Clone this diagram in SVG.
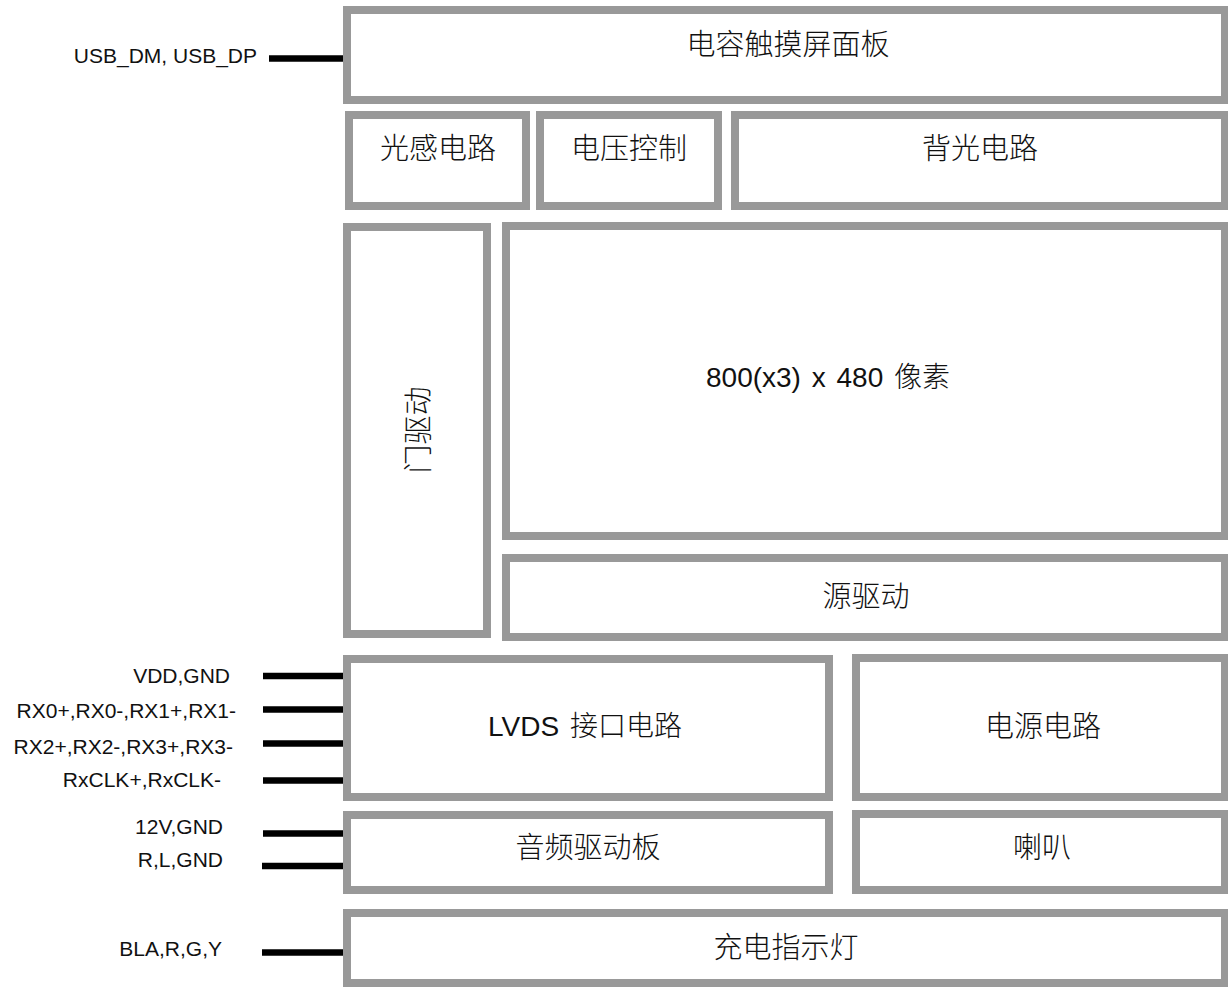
<svg xmlns="http://www.w3.org/2000/svg" width="1228" height="987" viewBox="0 0 1228 987">
<style>
.box{fill:#fff;stroke:#999;stroke-width:8}
.cjk{font-family:"Noto Sans CJK SC","Liberation Sans",sans-serif;font-size:29px;font-weight:300;fill:#111;text-anchor:middle}
.mix{font-family:"Liberation Sans","Noto Sans CJK SC",sans-serif;font-size:28px;fill:#111}
.pin{font-family:"Liberation Sans",Arial,sans-serif;font-size:21px;fill:#111;text-anchor:end}
.wire{stroke:#000;stroke-width:6.5;fill:none}
</style>
<rect width="1228" height="987" fill="#fff"/>
<g id="touch-panel"><rect class="box" x="347" y="10" width="878" height="90"/><text class="cjk" x="788" y="55">电容触摸屏面板</text></g>
<g id="light-sense"><rect class="box" x="349" y="115" width="177" height="91"/><text class="cjk" x="438" y="159">光感电路</text></g>
<g id="voltage-control"><rect class="box" x="540" y="115" width="178" height="91"/><text class="cjk" x="629" y="159">电压控制</text></g>
<g id="backlight"><rect class="box" x="735" y="115" width="490" height="91"/><text class="cjk" x="980" y="159">背光电路</text></g>
<g id="gate-driver"><rect class="box" x="347" y="227" width="140" height="407"/><text class="cjk" x="0" y="11" transform="translate(417.5,430) rotate(-90)">门驱动</text></g>
<g id="pixels"><rect class="box" x="506" y="226" width="719" height="310"/><text class="mix" x="706" y="387" word-spacing="3">800(x3) x 480 <tspan font-family="Noto Sans CJK SC, sans-serif" font-weight="300">像素</tspan></text></g>
<g id="source-driver"><rect class="box" x="506" y="558" width="719" height="79"/><text class="cjk" x="866" y="607">源驱动</text></g>
<g id="lvds"><rect class="box" x="347" y="659" width="482" height="138"/><text class="mix" x="585" y="736" text-anchor="middle" word-spacing="3">LVDS <tspan font-family="Noto Sans CJK SC, sans-serif" font-weight="300">接口电路</tspan></text></g>
<g id="power"><rect class="box" x="856" y="658" width="369" height="139"/><text class="cjk" x="1043" y="737">电源电路</text></g>
<g id="audio"><rect class="box" x="347" y="815" width="482" height="75"/><text class="cjk" x="588" y="858">音频驱动板</text></g>
<g id="speaker"><rect class="box" x="856" y="814" width="369" height="76"/><text class="cjk" x="1042" y="858">喇叭</text></g>
<g id="charge-led"><rect class="box" x="347" y="913" width="878" height="70"/><text class="cjk" x="786" y="958">充电指示灯</text></g>
<g id="pin-labels">
<text class="pin" x="257" y="63">USB_DM, USB_DP</text>
<text class="pin" x="230" y="683">VDD,GND</text>
<text class="pin" x="236" y="718">RX0+,RX0-,RX1+,RX1-</text>
<text class="pin" x="233" y="754">RX2+,RX2-,RX3+,RX3-</text>
<text class="pin" x="221" y="787">RxCLK+,RxCLK-</text>
<text class="pin" x="223" y="834">12V,GND</text>
<text class="pin" x="223" y="867">R,L,GND</text>
<text class="pin" x="222" y="956">BLA,R,G,Y</text>
</g>
<g id="connectors">
<line class="wire" x1="269" y1="58.5" x2="343" y2="58.5"/>
<line class="wire" x1="263" y1="676" x2="343" y2="676"/>
<line class="wire" x1="263" y1="709.5" x2="343" y2="709.5"/>
<line class="wire" x1="263" y1="743.5" x2="343" y2="743.5"/>
<line class="wire" x1="263" y1="780.5" x2="343" y2="780.5"/>
<line class="wire" x1="263" y1="833.5" x2="343" y2="833.5"/>
<line class="wire" x1="262" y1="866" x2="343" y2="866"/>
<line class="wire" x1="262" y1="952.5" x2="343" y2="952.5"/>
</g>
</svg>
